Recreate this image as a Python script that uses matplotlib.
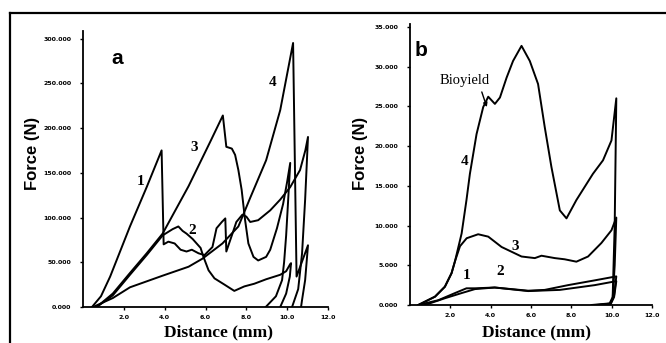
import matplotlib
matplotlib.use("Agg")
import matplotlib.pyplot as plt
from matplotlib.lines import Line2D

# ---------------- Panel a data (Distance mm, Force N) ----------------
a1_x = [0.44, 0.88, 1.33, 2.3, 3.12, 3.85, 3.95, 4.18, 4.49, 4.78, 5.07, 5.33, 5.66, 5.95, 6.34, 6.54,
        6.8, 6.97, 7.02, 7.32, 7.51, 7.8, 8.0, 8.19, 8.58, 9.17, 9.66, 10.15, 10.63, 10.89, 11.02,
        10.88, 10.73, 10.54, 10.24]
a1_y = [0, 12, 34, 90, 134, 175, 70, 73, 71, 64, 62, 64, 60, 58, 67, 88,
        95, 99, 62, 82, 95, 103, 101, 95, 97, 108, 120, 134, 153, 175, 190,
        120, 60, 20, 0]

a2_x = [0.67, 1.46, 2.3, 3.12, 3.9, 4.39, 4.67, 4.88, 5.07, 5.37, 5.76, 5.9, 6.15, 6.44, 6.93, 7.41,
        7.9, 8.39, 8.97, 9.66, 9.95, 10.15, 10.19, 10.13, 9.95, 9.66]
a2_y = [0, 13, 36, 58, 80, 87, 90, 85, 82, 76, 66, 56, 41, 32, 25, 18,
        23, 26, 31, 36, 40, 48, 49, 34, 15, 0]

a3_x = [0.67, 1.46, 2.3, 3.12, 3.9, 5.17, 6.24, 6.85, 7.02, 7.29, 7.45, 7.61, 7.77, 7.94, 8.1, 8.35,
        8.58, 8.97, 9.17, 9.5, 9.8, 10.0, 10.15, 10.05, 9.95, 9.85, 9.75, 9.45, 8.95]
a3_y = [0, 15, 38, 60, 82, 135, 185, 214, 179, 177, 170, 153, 131, 97, 71, 56,
        52, 56, 64, 88, 115, 140, 161, 120, 80, 50, 30, 12, 0]

a4_x = [0.49, 1.46, 2.3, 3.9, 5.17, 5.85, 6.83, 7.61, 8.19, 8.97, 9.66, 10.29, 10.46, 11.02,
        10.88, 10.73, 10.68]
a4_y = [0, 10, 22, 35, 45, 54, 71, 90, 122, 164, 220, 295, 34, 69,
        30, 8, 0]

# ---------------- Panel b data ----------------
b4_x = [0.41, 1.24, 1.73, 2.06, 2.23, 2.56, 2.8, 2.97, 3.3, 3.63, 3.88, 4.21, 4.46, 4.79, 5.11, 5.53,
        5.94, 6.35, 6.68, 7.01, 7.43, 7.76, 8.25, 9.07, 9.57, 9.99, 10.23, 10.15, 10.05, 9.9, 9.0]
b4_y = [0, 1.05, 2.3, 4.0, 5.5, 9.0, 13.2, 16.5, 21.5, 24.9, 26.2, 25.3, 26.1, 28.6, 30.7, 32.6,
        30.7, 27.8, 22.4, 17.4, 11.9, 10.9, 13.2, 16.5, 18.2, 20.7, 26.0, 10, 1, 0.2, 0]

b3_x = [0.41, 1.24, 1.73, 2.06, 2.23, 2.48, 2.81, 3.38, 3.88, 4.54, 5.53, 6.19, 6.52, 7.18, 7.67, 8.25,
        8.83, 9.49, 9.99, 10.23, 10.15, 10.05, 9.9, 9.2]
b3_y = [0, 1.05, 2.3, 4.0, 5.5, 7.4, 8.4, 8.9, 8.6, 7.3, 6.1, 5.9, 6.2, 5.9, 5.75, 5.45,
        6.1, 7.8, 9.4, 11.0, 5, 0.8, 0.1, 0]

b1_x = [0.41, 1.4, 2.23, 2.8, 3.22, 4.2, 5.86, 6.68, 7.84, 9.16, 10.23, 10.12, 9.95, 9.4]
b1_y = [0, 0.6, 1.5, 2.1, 2.1, 2.2, 1.8, 1.9, 2.5, 3.1, 3.6, 1.2, 0.2, 0]

b2_x = [0.74, 1.73, 2.56, 3.22, 4.2, 5.86, 7.43, 9.16, 10.23, 10.12, 9.95, 9.3]
b2_y = [0, 0.85, 1.5, 2.0, 2.2, 1.75, 1.9, 2.5, 3.0, 1.0, 0.1, 0]

a_yticks = [0, 50, 100, 150, 200, 250, 300]
a_yticklabels = ["0.000", "50.000", "100.000", "150.000", "200.000", "250.000", "300.000"]
b_yticks = [0, 5, 10, 15, 20, 25, 30, 35]
b_yticklabels = ["0.000", "5.000", "10.000", "15.000", "20.000", "25.000", "30.000", "35.000"]
xticks = [2, 4, 6, 8, 10, 12]
xticklabels = ["2.0", "4.0", "6.0", "8.0", "10.0", "12.0"]

W, H = 666, 343
fig = plt.figure(figsize=(W / 100, H / 100), dpi=100)

def px_ax(l, b, r, t):
    return [l / W, (H - b) / H, (r - l) / W, (b - t) / H]

axa = fig.add_axes(px_ax(83, 307, 328, 31))
axb = fig.add_axes(px_ax(410, 305, 652, 23.6))

lw = 1.4
for xs, ys in [(a1_x, a1_y), (a2_x, a2_y), (a3_x, a3_y), (a4_x, a4_y)]:
    axa.plot(xs, ys, color="black", lw=lw, solid_joinstyle="round")
for xs, ys in [(b1_x, b1_y), (b2_x, b2_y), (b3_x, b3_y), (b4_x, b4_y)]:
    axb.plot(xs, ys, color="black", lw=lw, solid_joinstyle="round")

axa.set_xlim(0, 12)
axa.set_ylim(0, 308.4)
axb.set_xlim(0, 12)
axb.set_ylim(0, 35.4)

for ax, yt, ytl in [(axa, a_yticks, a_yticklabels), (axb, b_yticks, b_yticklabels)]:
    ax.set_yticks(yt)
    ax.set_yticklabels(ytl)
    ax.set_xticks(xticks)
    ax.set_xticklabels(xticklabels)
    for s in ["top", "right"]:
        ax.spines[s].set_visible(False)
    for s in ["left", "bottom"]:
        ax.spines[s].set_linewidth(1.3)
    ax.tick_params(axis="y", direction="out", length=2.5, width=1.0, pad=6, labelsize=4.5)
    ax.tick_params(axis="x", direction="out", length=2.5, width=1.0, pad=3, labelsize=4.5)
    for lab in ax.get_xticklabels() + ax.get_yticklabels():
        lab.set_fontweight("bold")
        lab.set_family("DejaVu Sans")
    ax.patch.set_alpha(0)

# axis titles
for xc in (32, 360):
    fig.text(xc / W, 1 - 153 / H, "Force (N)", rotation=90, ha="center", va="center",
             fontsize=12, fontweight="bold", family="Liberation Sans")
for xc in (218, 536):
    fig.text(xc / W, 1 - 332 / H, "Distance (mm)", ha="center", va="center",
             fontsize=12.5, fontweight="bold", family="Liberation Serif")

# panel letters
axa.text(1.67, 278, "a", fontsize=15, fontweight="bold", family="Liberation Sans",
         ha="center", va="center")
axb.text(0.55, 32, "b", fontsize=15, fontweight="bold", family="Liberation Sans",
         ha="center", va="center")

serif_b = dict(fontsize=11, fontweight="bold", family="Liberation Serif", ha="center", va="center")
axa.text(2.8, 140, "1", **serif_b)
axa.text(5.35, 86, "2", **serif_b)
axa.text(5.45, 178, "3", **serif_b)
axa.text(9.3, 251, "4", **serif_b)

axb.text(2.72, 18, "4", **serif_b)
axb.text(5.2, 7.3, "3", **serif_b)
axb.text(2.82, 3.7, "1", **serif_b)
axb.text(4.46, 4.2, "2", **serif_b)

axb.text(2.72, 28.2, "Bioyield", fontsize=10.5, family="Liberation Serif",
         ha="center", va="center")
axb.annotate("", xy=(3.81, 24.9), xytext=(3.56, 26.8),
             arrowprops=dict(arrowstyle="-|>", color="black", lw=1.0,
                             mutation_scale=6, shrinkA=0, shrinkB=0))

# outer frame lines (top and left)
fig.add_artist(Line2D([10 / W, 1.0], [1 - 13 / H, 1 - 13 / H], color="black", lw=1.6,
                      transform=fig.transFigure))
fig.add_artist(Line2D([10 / W, 10 / W], [0, 1 - 13 / H], color="black", lw=1.6,
                      transform=fig.transFigure))

fig.savefig("out.png", dpi=100)
